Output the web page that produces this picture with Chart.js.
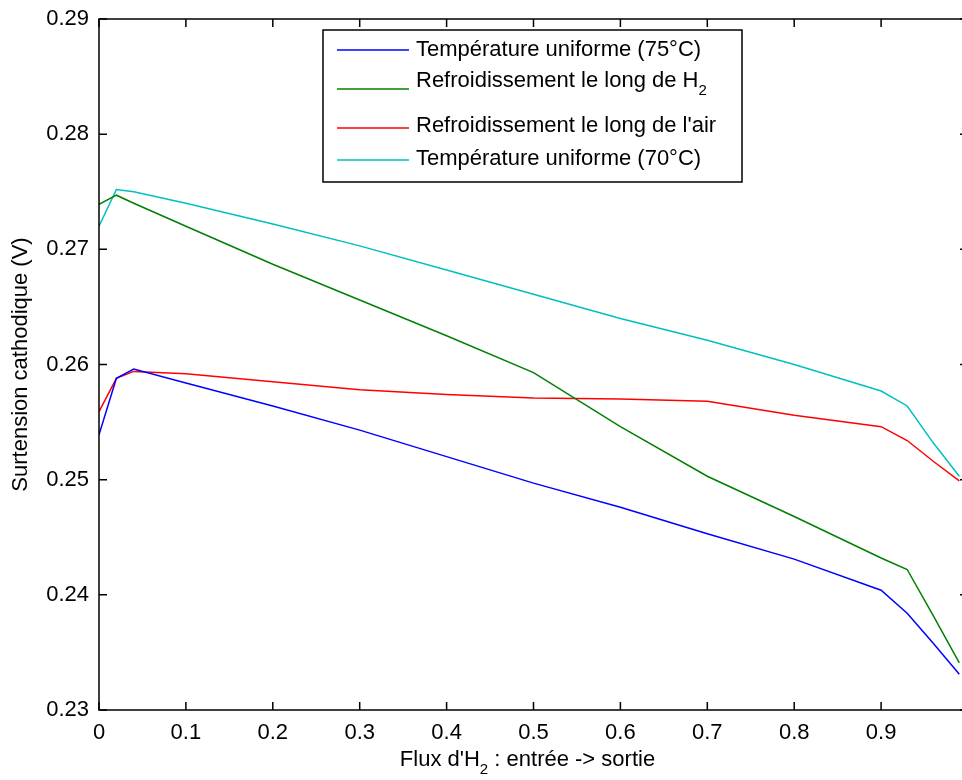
<!DOCTYPE html>
<html>
<head>
<meta charset="utf-8">
<script src="https://cdn.jsdelivr.net/npm/chart.js@4.4.1/dist/chart.umd.min.js"></script>
<style>
  html, body { margin: 0; padding: 0; background: #fff; overflow: hidden; }
  #wrap { width: 976px; height: 780px; }
</style>
</head>
<body>
<div id="wrap"><canvas id="surtensionChart" width="976" height="780"></canvas></div>
<script>
// DATA
const fluxH2 = [0, 0.02, 0.04, 0.1, 0.2, 0.3, 0.4, 0.5, 0.6, 0.7, 0.8, 0.9, 0.93, 0.96, 0.99];
const uniforme75 = [0.2539, 0.2588, 0.2596, 0.2584, 0.2564, 0.2543, 0.2520, 0.2497, 0.2476, 0.2453, 0.2431, 0.2404, 0.2384, 0.2358, 0.2331];
const refroidH2 = [0.2739, 0.2747, 0.2740, 0.2720, 0.2687, 0.2656, 0.2625, 0.2593, 0.2546, 0.2503, 0.2468, 0.2432, 0.2422, 0.2382, 0.2341];
const refroidAir = [0.2559, 0.2588, 0.2594, 0.2592, 0.2585, 0.2578, 0.2574, 0.2571, 0.2570, 0.2568, 0.2556, 0.2546, 0.2534, 0.2516, 0.2499];
const uniforme70 = [0.2720, 0.2752, 0.2750, 0.2740, 0.2722, 0.2703, 0.2682, 0.2661, 0.2640, 0.2621, 0.2600, 0.2577, 0.2564, 0.2532, 0.2503];

const seriesLabels = ['Température uniforme (75°C)', 'Refroidissement le long de H₂', "Refroidissement le long de l'air", 'Température uniforme (70°C)'];
const seriesColors = ['#0000ff', '#008000', '#ff0000', '#00bfbf'];
const xTitle = "Flux d'H₂ : entrée -> sortie";
const yTitle = 'Surtension cathodique (V)';

const FONT = "'Liberation Sans', Arial, Helvetica, sans-serif";
const FONT_SIZE = 22;
const SUB_SIZE = 15;

Chart.defaults.font.family = FONT;
Chart.defaults.font.size = FONT_SIZE;
Chart.defaults.color = '#000';

//TEXT WITH SUBSCRIPT 2
function drawSubText(ctx, text, x, y, align) {
  const parts = text.split('₂');
  const segs = [];
  parts.forEach((p, i) => {
    if (p) segs.push({ t: p, sub: false });
    if (i < parts.length - 1) segs.push({ t: '2', sub: true });
  });

  let total = 0;
  segs.forEach(s => {
    ctx.font = (s.sub ? SUB_SIZE : FONT_SIZE) + 'px ' + FONT;
    s.w = ctx.measureText(s.t).width;
    total += s.w;
  });

  let cx = align === 'center' ? x - total / 2 : x;
  ctx.textAlign = 'left';
  ctx.textBaseline = 'middle';
  segs.forEach(s => {
    ctx.font = (s.sub ? SUB_SIZE : FONT_SIZE) + 'px ' + FONT;
    ctx.fillText(s.t, cx, s.sub ? y + 10 : y);
    cx += s.w;
  });
}

//KILL AUTO LABEL PADDING SO THE PLOT BOX STAYS PUT
function fixScale(scale, size) {
  if (scale.isHorizontal()) scale.height = size;
  else scale.width = size;
  scale.paddingLeft = 0;
  scale.paddingRight = 0;
  scale.paddingTop = 0;
  scale.paddingBottom = 0;
}

//FRAME + INWARD TICKS PLUGIN
const frameTicks = {
  id: 'frameTicks',
  afterDraw(chart) {
    const ctx = chart.ctx;
    const { left, right, top, bottom } = chart.chartArea;
    const xs = chart.scales.x;
    const ys = chart.scales.y;
    const tl = 8;

    ctx.save();
    ctx.strokeStyle = '#000';
    ctx.lineWidth = 1.5;
    ctx.strokeRect(left, top, right - left, bottom - top);

    ctx.beginPath();
    xs.ticks.forEach(t => {
      const px = xs.getPixelForValue(t.value);
      ctx.moveTo(px, bottom); ctx.lineTo(px, bottom - tl);
      ctx.moveTo(px, top); ctx.lineTo(px, top + tl);
    });
    ys.ticks.forEach(t => {
      const py = ys.getPixelForValue(t.value);
      ctx.moveTo(left, py); ctx.lineTo(left + tl, py);
      ctx.moveTo(right, py); ctx.lineTo(right - tl, py);
    });
    ctx.stroke();

    // X AXIS TITLE
    ctx.fillStyle = '#000';
    drawSubText(ctx, xTitle, (left + right) / 2 - 6, 760, 'center');
    ctx.restore();
  }
};

//LEGEND BOX PLUGIN
const legendBox = {
  id: 'legendBox',
  afterDraw(chart) {
    const ctx = chart.ctx;
    const box = { x: 323, y: 30, w: 419, h: 152 };
    const lineY = [50, 89, 128, 160];
    const textY = [50, 81, 126, 159];

    ctx.save();
    ctx.fillStyle = '#fff';
    ctx.fillRect(box.x, box.y, box.w, box.h);
    ctx.strokeStyle = '#000';
    ctx.lineWidth = 1.5;
    ctx.strokeRect(box.x, box.y, box.w, box.h);

    chart.data.datasets.forEach((ds, i) => {
      ctx.strokeStyle = ds.borderColor;
      ctx.lineWidth = 1.5;
      ctx.beginPath();
      ctx.moveTo(337, lineY[i]);
      ctx.lineTo(409, lineY[i]);
      ctx.stroke();
      ctx.fillStyle = '#000';
      drawSubText(ctx, ds.label, 416, textY[i], 'left');
    });
    ctx.restore();
  }
};

//BUILD DATASETS
const seriesValues = [uniforme75, refroidH2, refroidAir, uniforme70];
const datasets = seriesValues.map((vals, i) => ({
  label: seriesLabels[i],
  data: fluxH2.map((x, j) => ({ x: x, y: vals[j] })),
  borderColor: seriesColors[i],
  borderWidth: 1.5,
  pointRadius: 0,
  tension: 0,
  fill: false
}));

//CHART
const canvas = document.getElementById('surtensionChart');
new Chart(canvas, {
  type: 'line',
  data: { datasets: datasets },
  options: {
    responsive: false,
    animation: false,
    devicePixelRatio: 1,
    layout: { padding: { top: 19, right: 8, left: 0, bottom: 0 } },
    plugins: {
      legend: { display: false },
      tooltip: { enabled: false }
    },
    scales: {
      x: {
        type: 'linear',
        min: 0,
        max: 1,
        grid: { display: false, drawTicks: false },
        border: { display: false },
        ticks: {
          stepSize: 0.1,
          padding: 10,
          maxRotation: 0,
          callback: v => String(Number(v.toFixed(1)))
        },
        afterFit: scale => fixScale(scale, 70)
      },
      y: {
        type: 'linear',
        min: 0.23,
        max: 0.29,
        grid: { display: false, drawTicks: false },
        border: { display: false },
        ticks: {
          stepSize: 0.01,
          padding: 10,
          callback: v => v.toFixed(2)
        },
        title: {
          display: true,
          text: yTitle,
          padding: { top: 8, bottom: 0 }
        },
        afterFit: scale => fixScale(scale, 99)
      }
    }
  },
  plugins: [frameTicks, legendBox]
});
</script>
</body>
</html>
